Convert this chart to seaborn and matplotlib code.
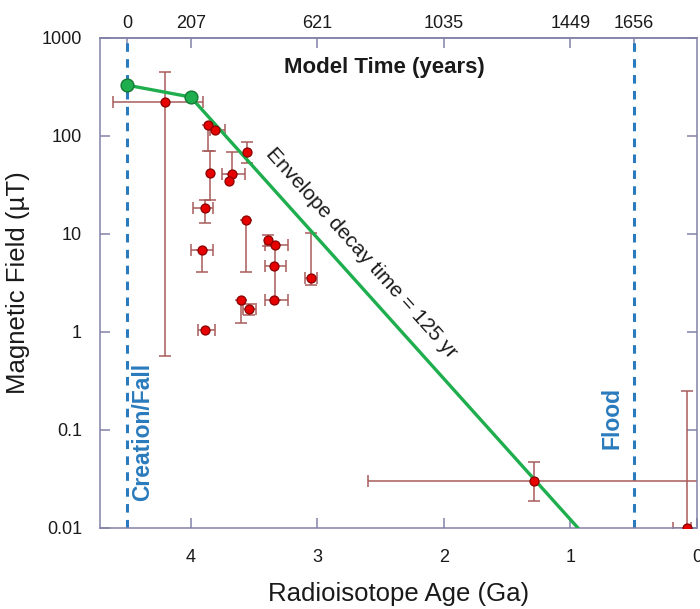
import numpy as np
import matplotlib
matplotlib.use("Agg")
import matplotlib.pyplot as plt
from matplotlib.ticker import NullLocator
import seaborn as sns

# ---------------- data ----------------
age       = np.array([4.20, 3.86, 3.81, 3.85, 3.89, 3.557, 3.675, 3.70, 3.56, 3.91,
                      3.60, 3.54, 3.886, 3.39, 3.33, 3.34, 3.34, 3.05, 1.29, 0.08])
field     = np.array([220, 130, 114, 42, 18.4, 68, 41, 35, 14, 6.9,
                      2.1, 1.72, 1.05, 8.75, 7.65, 4.75, 2.1, 3.56, 0.03, 0.0101])
age_min   = np.array([3.90, 3.86, 3.73, 3.85, 3.82, 3.557, 3.57, 3.70, 3.56, 3.82,
                      3.60, 3.48, 3.81, 3.39, 3.23, 3.25, 3.23, 3.00, -0.30, 0.05])
age_max   = np.array([4.61, 3.86, 3.85, 3.85, 3.98, 3.557, 3.755, 3.70, 3.56, 4.00,
                      3.60, 3.59, 3.94, 3.39, 3.41, 3.41, 3.41, 3.10, 2.60, 0.19])
field_min = np.array([0.57, 70, 114, 22, 13, 53, 41, 35, 4.06, 4.1,
                      1.24, 1.5, 1.05, 7.5, 2.1, 4.75, 2.1, 3.04, 0.0187, 0.001])
field_max = np.array([446, 130, 114, 70, 22, 86, 68, 35, 14, 6.9,
                      2.1, 1.95, 1.05, 9.8, 7.65, 4.75, 2.1, 10.2, 0.0467, 0.25])

env_age   = [4.5, 4.0, 0.94]
env_field = [330, 250, 0.01]

event_age    = [4.5, 0.5]
event_labels = ["Creation/Fall", "Flood"]

age_ticks    = [4, 3, 2, 1, 0]
field_ticks  = [0.01, 0.1, 1, 10, 100, 1000]
field_labels = ["0.01", "0.1", "1", "10", "100", "1000"]
model_years  = [0, 207, 621, 1035, 1449, 1656]

# ---------------- style ----------------
sns.set_theme(style="white")
plt.rcParams['font.family'] = ['Liberation Sans', 'DejaVu Sans']

spine_c = "#8282a8"
blue = "#2a7bbd"
green = "#1fae4e"
red = "#e60000"
err_c = "#a85c5c"
txt_c = "#1a1a1a"

fig = plt.figure(figsize=(7.0, 6.09), dpi=100)
ax = fig.add_axes([100/700, 1-528/609, 597/700, 490/609])

ax.set_yscale('log')
ax.set_xlim(4.716, 0)
ax.set_ylim(0.01, 1000)

# event lines
for a in event_age:
    ax.axvline(a, color=blue, lw=2.2, ls=(0, (2.8, 2.4)), zorder=1)

# envelope
sns.lineplot(x=env_age, y=env_field, ax=ax, color=green, lw=2.4, sort=False,
             estimator=None, zorder=3)
sns.scatterplot(x=env_age[:2], y=env_field[:2], ax=ax, color=green, s=85,
                edgecolor="#137a35", linewidth=1.0, zorder=4)

# error bars
hasx = age_max > age_min
ax.errorbar(age[hasx], field[hasx],
            xerr=[age[hasx] - age_min[hasx], age_max[hasx] - age[hasx]],
            fmt='none', ecolor=err_c, elinewidth=1.1, capsize=4, capthick=1.1, zorder=2)
hasy = field_max > field_min
ax.errorbar(age[hasy], field[hasy],
            yerr=[field[hasy] - field_min[hasy], field_max[hasy] - field[hasy]],
            fmt='none', ecolor=err_c, elinewidth=1.1, capsize=4, capthick=1.1, zorder=2)

sns.scatterplot(x=age, y=field, ax=ax, color=red, s=42, edgecolor="#8a0000",
                linewidth=0.9, zorder=5)

# ticks / spines
ax.set_xticks(age_ticks)
ax.set_xticklabels([str(t) for t in age_ticks])
ax.set_yticks(field_ticks)
ax.set_yticklabels(field_labels)
ax.yaxis.set_minor_locator(NullLocator())
ax.xaxis.set_minor_locator(NullLocator())
for s in ax.spines.values():
    s.set_visible(True)
    s.set_color(spine_c)
    s.set_linewidth(1.1)
ax.tick_params(axis='both', which='major', direction='in', length=7, width=1.1,
               color=spine_c, labelsize=13, labelcolor=txt_c)
ax.tick_params(axis='y', right=True, left=True, pad=13)
ax.tick_params(axis='x', bottom=True, top=False, pad=15)

def ga2yr(g):
    return 207 + (4 - np.asarray(g)) * 414

def yr2ga(y):
    return 4 - (np.asarray(y) - 207) / 414

sec = ax.secondary_xaxis('top', functions=(ga2yr, yr2ga))
sec.set_xticks(model_years)
sec.set_xticklabels([str(y) for y in model_years])
sec.xaxis.set_minor_locator(NullLocator())
sec.tick_params(direction='in', length=7, width=1.1, color=spine_c,
                labelsize=13, labelcolor=txt_c, pad=4)
sec.spines['top'].set_color(spine_c)
sec.spines['top'].set_linewidth(1.1)

ax.set_xlabel("Radioisotope Age (Ga)", fontsize=18.5, color=txt_c, labelpad=12)
ax.set_ylabel("Magnetic Field (\u00b5T)", fontsize=18.5, color=txt_c, labelpad=8)

# annotations
ax.text(0.477, 0.939, "Model Time (years)", transform=ax.transAxes, ha='center',
        va='center', fontsize=16, fontweight='bold', color=txt_c)
ax.text(2.653, 6.44, "Envelope decay time = 125 yr", ha='center', va='center',
        rotation=-48, rotation_mode='anchor', fontsize=15, color=txt_c)
ax.text(4.376, 0.096, event_labels[0], rotation=90, ha='center', va='center',
        fontsize=16.5, fontweight='bold', color=blue)
ax.text(0.669, 0.134, event_labels[1], rotation=90, ha='center', va='center',
        fontsize=16.5, fontweight='bold', color=blue)

fig.savefig("out.png", dpi=100)
